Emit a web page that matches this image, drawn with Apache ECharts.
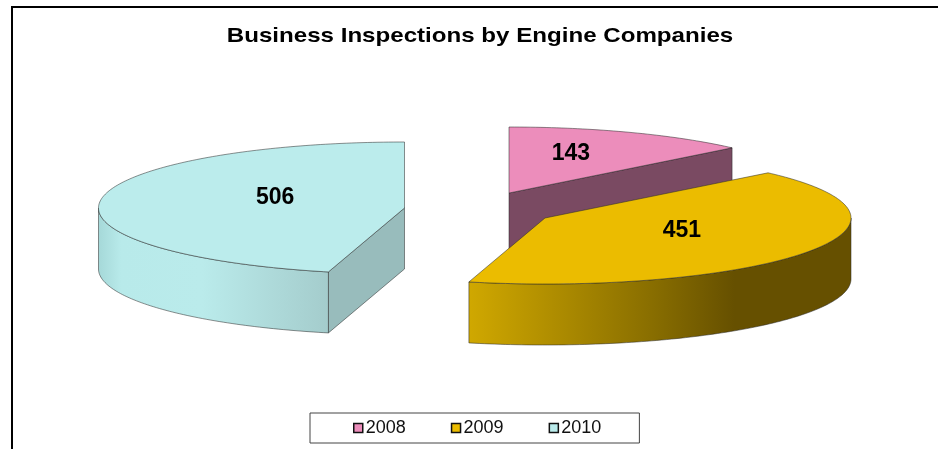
<!DOCTYPE html>
<html>
<head>
<meta charset="utf-8">
<style>
  html, body { margin: 0; padding: 0; background: #fff; }
  #chart { width: 938px; height: 449px; }
</style>
<script src="https://cdn.jsdelivr.net/npm/echarts@6/dist/echarts.min.js"></script>
</head>
<body>
<div id="chart"></div>
<script>
const chartTitle = 'Business Inspections by Engine Companies';
const years = ['2008', '2009', '2010'];
const inspections = [143, 451, 506];

const topColors = ['#EC8DBB', '#EBBC00', '#BBECEC'];
const edgeColors = ['#7A4A62', '#6B5600', '#98BCBC'];
const wallStops = [
  [[0, '#EC8DBB'], [1, '#7A4A62']],
  [[0, '#D0A800'], [0.47, '#8A6F00'], [0.695, '#665000'], [1, '#665000']],
  [[0, '#A5D8D8'], [0.1, '#B8EAEA'], [0.45, '#BAEBEB'], [1, '#A4CCCC']],
];

// exploded slice apex on screen, one per year
const apexes = [[509, 193], [545, 218], [404.5, 208]];
const labelRadius = [0.51, 0.52, 0.426];
const labelLift = [8, 5, 7];
const RX = 306;
const RY = 66;
const DEPTH = 61;
const OUTLINE = 'rgba(40,40,40,0.65)';

const total = inspections.reduce((sum, v) => sum + v, 0);

function ellipsePoint(cx, cy, deg) {
  const a = deg * Math.PI / 180;
  return [cx + RX * Math.sin(a), cy - RY * Math.cos(a)];
}

function arcPoints(cx, cy, from, to) {
  const pts = [];
  const steps = Math.max(2, Math.ceil(Math.abs(to - from)));
  for (let i = 0; i <= steps; i++) {
    pts.push(ellipsePoint(cx, cy, from + (to - from) * i / steps));
  }
  return pts;
}

function polygon(points, fill) {
  return {
    type: 'polygon',
    shape: { points },
    style: { fill, stroke: OUTLINE, lineWidth: 0.8 },
    silent: true,
  };
}

function radialWall(cx, cy, deg, fill) {
  const p = ellipsePoint(cx, cy, deg);
  return polygon([[cx, cy], p, [p[0], p[1] + DEPTH], [cx, cy + DEPTH]], fill);
}

function drawSlice(index, value, startDeg) {
  const endDeg = startDeg + value / total * 360;
  const [cx, cy] = apexes[index];
  const children = [];

  // walls first, only the ones that face the viewer
  if (-Math.cos((startDeg - 90) * Math.PI / 180) > 0.01) {
    children.push(radialWall(cx, cy, startDeg, edgeColors[index]));
  }
  if (-Math.cos((endDeg + 90) * Math.PI / 180) > 0.01) {
    children.push(radialWall(cx, cy, endDeg, edgeColors[index]));
  }
  const wallFrom = Math.max(startDeg, 90);
  const wallTo = Math.min(endDeg, 270);
  if (wallTo > wallFrom) {
    const upper = arcPoints(cx, cy, wallFrom, wallTo);
    const lower = upper.map((p) => [p[0], p[1] + DEPTH]).reverse();
    children.push(polygon(upper.concat(lower), {
      type: 'linear',
      x: 0, y: 0, x2: 1, y2: 0,
      colorStops: wallStops[index].map((s) => ({ offset: s[0], color: s[1] })),
    }));
  }

  children.push(polygon([[cx, cy]].concat(arcPoints(cx, cy, startDeg, endDeg)), topColors[index]));

  const mid = ellipsePoint(0, 0, (startDeg + endDeg) / 2);
  children.push({
    type: 'text',
    silent: true,
    style: {
      x: cx + mid[0] * labelRadius[index],
      y: cy + mid[1] * labelRadius[index] - labelLift[index],
      text: String(value),
      fill: '#000',
      font: 'bold 23px "Liberation Sans", Arial, sans-serif',
      align: 'center',
      verticalAlign: 'middle',
    },
  });
  return { type: 'group', children };
}

let startAt = 0;
const series = years.map((year, index) => {
  const start = startAt;
  startAt += inspections[index] / total * 360;
  return {
    name: year,
    type: 'custom',
    coordinateSystem: 'none',
    itemStyle: { color: topColors[index] },
    data: [inspections[index]],
    renderItem: (params, api) => drawSlice(index, api.value(0), start),
  };
});

const chart = echarts.init(document.getElementById('chart'));
chart.setOption({
  animation: false,
  backgroundColor: '#fff',
  legend: {
    data: years,
    left: 310,
    top: 413,
    padding: [6, 38, 6, 43],
    borderColor: '#444',
    borderWidth: 1,
    itemWidth: 9,
    itemHeight: 9,
    itemGap: 45,
    icon: 'rect',
    selectedMode: false,
    itemStyle: { borderColor: '#111', borderWidth: 1.5 },
    textStyle: {
      color: '#111',
      fontFamily: '"Liberation Sans", Arial, sans-serif',
      fontSize: 18,
      padding: [0, 0, 0, -2],
    },
  },
  graphic: [
    { type: 'rect', silent: true, shape: { x: 11, y: 6, width: 2, height: 443 }, style: { fill: '#000' } },
    { type: 'rect', silent: true, shape: { x: 11, y: 6, width: 927, height: 2 }, style: { fill: '#000' } },
    {
      // the title in the picture is stretched sideways, so it is scaled rather than just enlarged
      type: 'text',
      silent: true,
      x: 480,
      y: 36,
      scaleX: 1.148,
      style: {
        x: 0,
        y: 0,
        text: chartTitle,
        fill: '#000',
        font: 'bold 21px "Liberation Sans", Arial, sans-serif',
        align: 'center',
        verticalAlign: 'middle',
      },
    },
  ],
  series,
});
</script>
</body>
</html>
